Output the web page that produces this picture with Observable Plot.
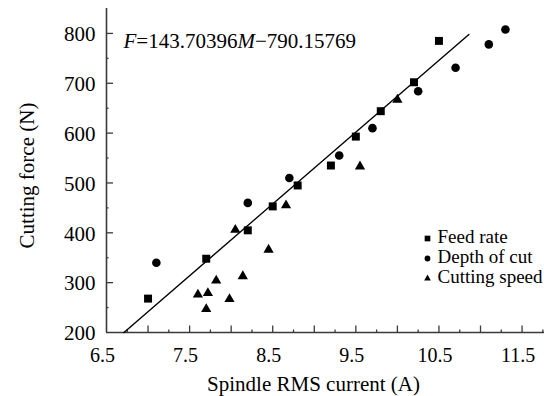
<!DOCTYPE html>
<html><head><meta charset="utf-8">
<script src="https://cdn.jsdelivr.net/npm/d3@7"></script>
<script src="https://cdn.jsdelivr.net/npm/@observablehq/plot@0.6"></script>
<style>body{margin:0;background:#fff;} svg{display:block;} svg text{font-family:'Liberation Serif','Times New Roman',serif;}</style>
</head><body><div id="chart"></div>
<script>
// Data
const feedX = [7.0, 7.7, 8.2, 8.5, 8.8, 9.2, 9.5, 9.8, 10.2, 10.5];
const feedY = [268, 348, 405, 453, 495, 535, 593, 644, 702, 785];
const depthX = [7.1, 8.2, 8.7, 9.3, 9.7, 10.25, 10.7, 11.1, 11.3];
const depthY = [340, 460, 510, 555, 610, 684, 731, 778, 808];
const speedX = [7.6, 7.7, 7.72, 7.82, 7.98, 8.05, 8.14, 8.45, 8.66, 9.55, 10.0];
const speedY = [276, 247, 279, 304, 267, 406, 313, 366, 455, 533, 667];
const fitX = [6.71, 10.86];
const fitY = [200, 798];
const xTickLabels = [6.5, 7.5, 8.5, 9.5, 10.5, 11.5];
const xMajorTicks = [7, 7.5, 8, 8.5, 9, 9.5, 10, 10.5, 11, 11.5];
const xMinorTicks = [6.75, 7.25, 7.75, 8.25, 8.75, 9.25, 9.75, 10.25, 10.75, 11.25, 11.75];
const yTickLabels = [200, 300, 400, 500, 600, 700, 800];
const yMajorTicks = [300, 400, 500, 600, 700, 800];
const yMinorTicks = [250, 350, 450, 550, 650, 750];
const seriesNames = ["Feed rate", "Depth of cut", "Cutting speed"];
const seriesSymbols = ["square", "circle", "triangle"];
const xLabel = "Spindle RMS current (A)";
const yLabel = "Cutting force (N)";
const eqParts = ["F", "=143.70396", "M", "\u2212790.15769"];

const toRows = (xs, ys) => xs.map((x, i) => ({x, y: ys[i]}));
const feed = toRows(feedX, feedY);
const depth = toRows(depthX, depthY);
const speed = toRows(speedX, speedY);
const fit = toRows(fitX, fitY);

const W = 544, H = 396, mL = 106, mR = 0, mT = 8, mB = 64;
const fw = W - mL - mR, fh = H - mT - mB;
const axisColor = "#3a3a3a";
const serif = "Liberation Serif";

const legendSizes = [3.2, 2.9, 2.5];
const legend = seriesNames.flatMap((name, i) => [
  Plot.dot([name], {frameAnchor: "top-left", dx: 321, dy: 230 + 20 * i, symbol: seriesSymbols[i], r: legendSizes[i], fill: "black", stroke: "none"}),
  Plot.text([name], {frameAnchor: "top-left", dx: 331, dy: 234 + 20 * i, textAnchor: "start", lineAnchor: "bottom", fontSize: 19, fontFamily: serif, fill: "black"})
]);

const chart = Plot.plot({
  width: W, height: H,
  marginLeft: mL, marginRight: mR, marginTop: mT, marginBottom: mB,
  style: {fontFamily: serif, color: "black", background: "white", overflow: "visible"},
  x: {domain: [6.5, 11.77]},
  y: {domain: [200, 850]},
  marks: [
    Plot.tickX(xMajorTicks, {x: d => d, insetTop: fh - 6.5, stroke: axisColor, strokeWidth: 1.3}),
    Plot.tickX(xMinorTicks, {x: d => d, insetTop: fh - 2.5, stroke: axisColor, strokeWidth: 1.3}),
    Plot.tickY(yMajorTicks, {y: d => d, insetRight: fw - 7, stroke: axisColor, strokeWidth: 1.3}),
    Plot.tickY(yMinorTicks, {y: d => d, insetRight: fw - 2.5, stroke: axisColor, strokeWidth: 1.3}),
    Plot.ruleX([6.5], {stroke: axisColor, strokeWidth: 1.6}),
    Plot.ruleY([200], {stroke: axisColor, strokeWidth: 1.6}),
    Plot.axisX({ticks: xTickLabels, tickSize: 0, tickPadding: 15, dx: -4, fontSize: 20, fontFamily: serif, label: null, tickFormat: d => d.toFixed(1), fill: "black"}),
    Plot.axisY({ticks: yTickLabels, tickSize: 0, tickPadding: 11, dy: 1, fontSize: 21, fontFamily: serif, label: null, tickFormat: d => String(d), fill: "black"}),
    Plot.line(fit, {x: "x", y: "y", stroke: "black", strokeWidth: 1.4}),
    Plot.dot(feed, {x: "x", y: "y", symbol: "square", r: 4.5, fill: "black", stroke: "none"}),
    Plot.dot(depth, {x: "x", y: "y", symbol: "circle", r: 4.3, fill: "black", stroke: "none"}),
    Plot.dot(speed, {x: "x", y: "y", symbol: "triangle", r: 3.8, fill: "black", stroke: "none"}),
    ...legend,
    Plot.text([xLabel], {frameAnchor: "bottom", dx: -12, dy: 58, textAnchor: "middle", lineAnchor: "bottom", fontSize: 21, fontFamily: serif, fill: "black"}),
    Plot.text([yLabel], {frameAnchor: "left", dx: -73, dy: 5, rotate: -90, textAnchor: "middle", lineAnchor: "bottom", fontSize: 21, fontFamily: serif, fill: "black"}),
    Plot.text([eqParts.join("")], {frameAnchor: "top-left", dx: 17, dy: 39, textAnchor: "start", lineAnchor: "bottom", fontSize: 21, fontFamily: serif, fill: "black"})
  ]
});

// Rich text for the regression equation (italic variable names)
const eqString = eqParts.join("");
d3.select(chart).selectAll("text").filter(function () { return this.textContent === eqString; }).each(function () {
  const t = d3.select(this);
  t.text(null);
  eqParts.forEach((p, i) => {
    t.append("tspan").attr("font-style", i % 2 === 0 ? "italic" : "normal").text(p);
  });
});

document.getElementById("chart").appendChild(chart);
</script>
</body></html>
